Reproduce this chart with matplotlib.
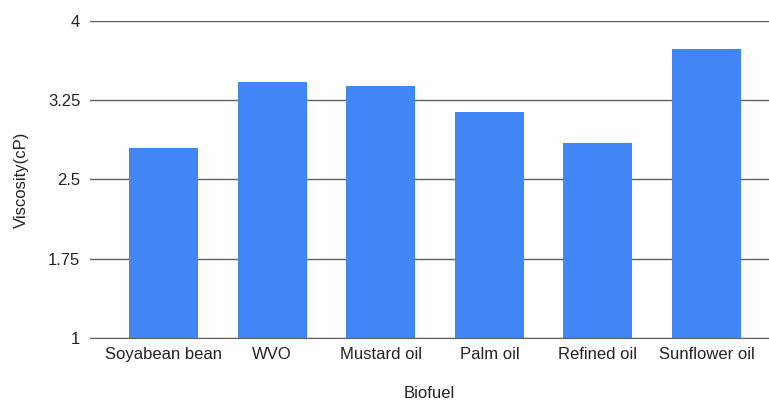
import matplotlib.pyplot as plt

biofuels = ['Soyabean bean', 'WVO', 'Mustard oil', 'Palm oil', 'Refined oil', 'Sunflower oil']
viscosity = [2.80, 3.43, 3.39, 3.14, 2.85, 3.74]
y_ticks = [1, 1.75, 2.5, 3.25, 4]
y_tick_labels = ['1', '1.75', '2.5', '3.25', '4']

plt.rcParams['font.family'] = ['Liberation Sans', 'DejaVu Sans']

fig = plt.figure(figsize=(7.69, 4.03), dpi=100)
ax = fig.add_axes([0.117, 0.1625, 0.883, 0.7842])

x = range(len(biofuels))
ax.bar(x, [v - 1 for v in viscosity], bottom=1, width=0.635, color='#4285F4', zorder=3)

ax.set_ylim(1, 4)
ax.set_xlim(-0.677, 5.575)
ax.set_yticks(y_ticks)
ax.set_yticklabels(y_tick_labels)
ax.set_xticks(list(x))
ax.set_xticklabels(biofuels)
ax.tick_params(axis='both', length=0, labelsize=12, colors='#222222')
ax.tick_params(axis='y', pad=7)
ax.tick_params(axis='x', pad=7)

ax.grid(axis='y', color='#5f5f5f', linewidth=1, zorder=1)
for side in ['top', 'right', 'left']:
    ax.spines[side].set_visible(False)
ax.spines['bottom'].set_color('#5f5f5f')
ax.spines['bottom'].set_zorder(4)

ax.set_xlabel('Biofuel', fontsize=12, color='#222222', labelpad=17)
ax.set_ylabel('Viscosity(cP)', fontsize=12, color='#222222', labelpad=14)

plt.savefig('out.png', dpi=100)
